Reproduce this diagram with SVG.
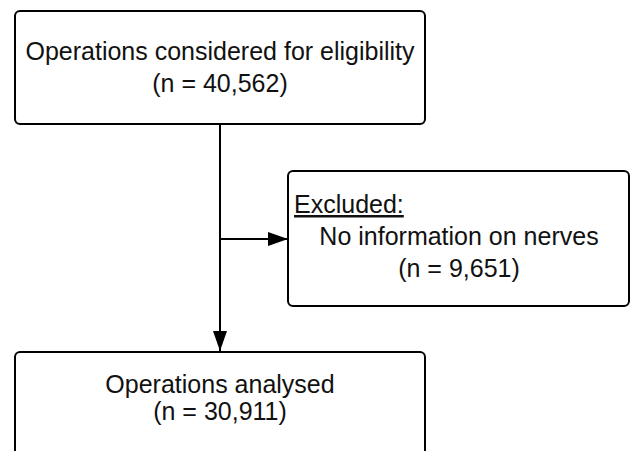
<svg xmlns="http://www.w3.org/2000/svg" width="630" height="451" viewBox="0 0 630 451">
<style>
.box{fill:#fff;stroke:#000;stroke-width:2}
.t{font-family:"Liberation Sans",Arial,sans-serif;font-size:25px;fill:#111;text-anchor:middle}
.l{text-anchor:start;text-decoration:underline}
.c{stroke:#000;stroke-width:2;fill:none}
</style>
<defs>
<marker id="ah" markerWidth="20" markerHeight="14" refX="20" refY="7" orient="auto" markerUnits="userSpaceOnUse">
<path d="M0,0 L20,7 L0,14 Z" fill="#000"/>
</marker>
</defs>
<rect width="630" height="451" fill="#fff"/>
<g id="connectors">
<line class="c" x1="220" y1="124" x2="220" y2="351" marker-end="url(#ah)"/>
<line class="c" x1="220" y1="239" x2="288" y2="239" marker-end="url(#ah)"/>
</g>
<g id="considered">
<rect class="box" x="15" y="11" width="410" height="113" rx="5"/>
<text class="t" x="220" y="60">Operations considered for eligibility</text>
<text class="t" x="220" y="92">(n = 40,562)</text>
</g>
<g id="excluded">
<rect class="box" x="288" y="171" width="341" height="135" rx="5"/>
<text class="t l" x="294" y="213">Excluded:</text>
<text class="t" x="459" y="245">No information on nerves</text>
<text class="t" x="459" y="277">(n = 9,651)</text>
</g>
<g id="analysed">
<rect class="box" x="15" y="352" width="410" height="120" rx="5"/>
<text class="t" x="220" y="393">Operations analysed</text>
<text class="t" x="220" y="420">(n = 30,911)</text>
</g>
</svg>
